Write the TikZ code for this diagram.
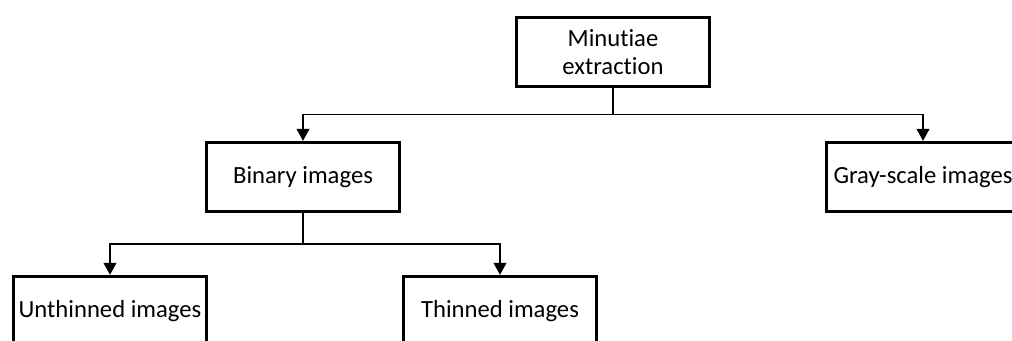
\documentclass[tikz,border=0pt]{standalone}
\usepackage{fontspec}
\setmainfont[Ligatures=NoCommon]{Carlito}
\usepackage{tikz}
\usetikzlibrary{arrows.meta,positioning,calc}

\begin{document}
\begin{tikzpicture}[x=0.75pt,y=-0.75pt,
  box/.style={draw,line width=2.2pt,minimum width=145pt,minimum height=52pt,
    inner sep=0pt,align=center,font=\fontsize{18.5}{21}\selectfont},
  conn/.style={line width=1.4pt},
  arr/.style={conn,-{Triangle[width=9.5pt,length=9pt]}}]
\useasboundingbox (0,0) rectangle (1012,341);
\clip (0,0) rectangle (1012,341);
% Boxes
\node[box] (mext) at (613,52) {Minutiae\\extraction};
\node[box] (bin) at (303,177) {Binary images};
\node[box] (gray) at (923,177) {Gray-scale images};
\node[box] (unth) at (110,311) {Unthinned images};
\node[box] (thin) at (500,311) {Thinned images};
% Junctions between levels
\coordinate (s1) at ($(mext.south)!0.5!(bin.north)$);
\coordinate (s2) at ($(bin.south)!0.5!(unth.north)$);
% Connectors
\draw[conn] (mext.south) -- (mext.south |- s1);
\draw[arr] (mext.south |- s1) -| (bin.north);
\draw[arr] (mext.south |- s1) -| (gray.north);
\draw[conn] (bin.south) -- (bin.south |- s2);
\draw[arr] (bin.south |- s2) -| (unth.north);
\draw[arr] (bin.south |- s2) -| (thin.north);
\end{tikzpicture}
\end{document}
